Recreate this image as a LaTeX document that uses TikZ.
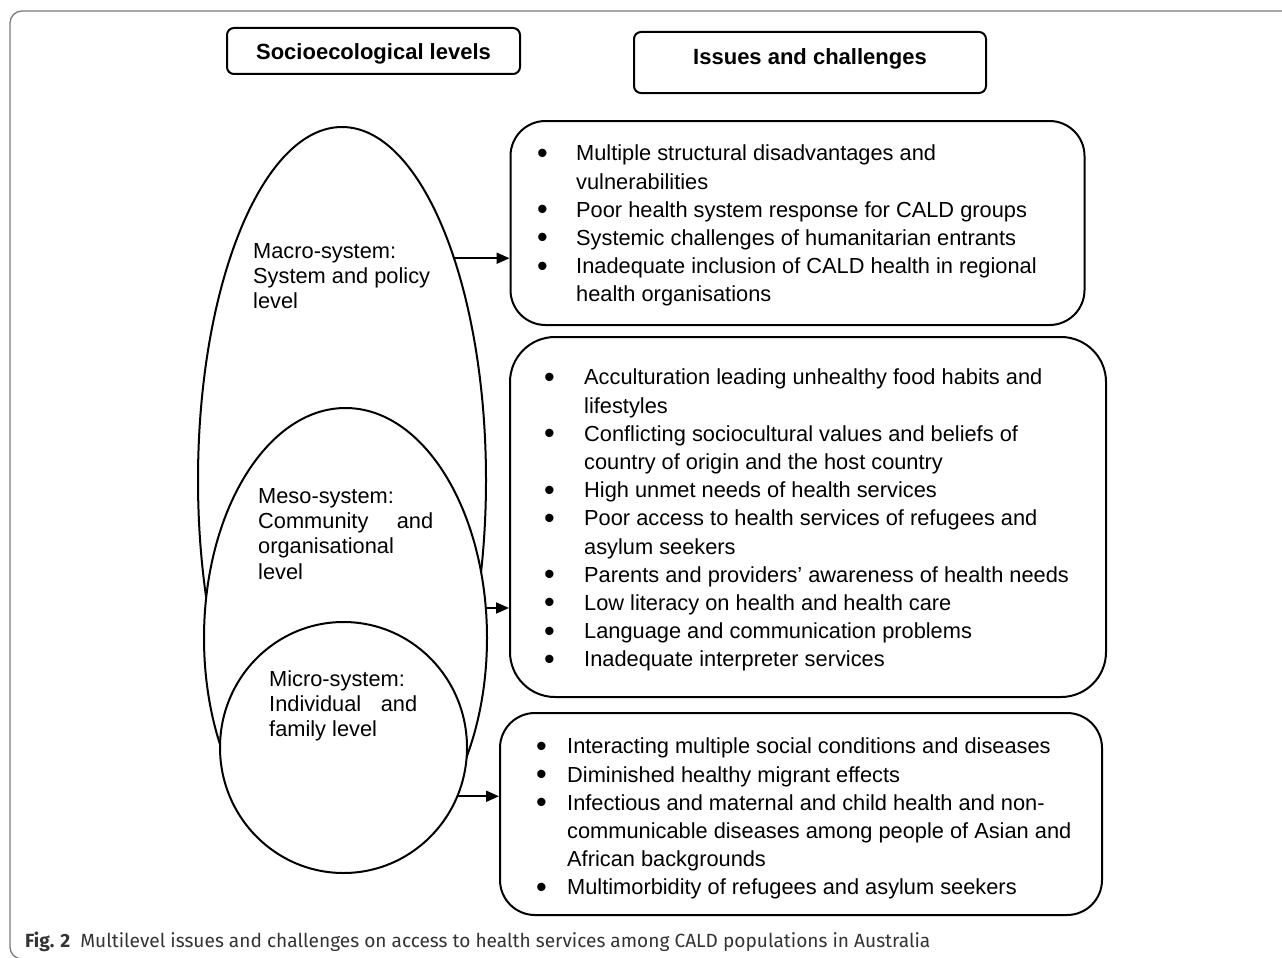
\documentclass[tikz,border=0pt]{standalone}
\usepackage{fontspec}
\setmainfont{Liberation Sans}
\newfontfamily\captionfont{Fira Sans}
\usetikzlibrary{
    positioning,
    calc,
    shapes.geometric,
    arrows.meta
}
\definecolor{FrameGray}{HTML}{7A7A7A}
\definecolor{CaptionGray}{HTML}{333333}

\newcommand{\issuebullet}{\raisebox{-2.3pt}{\scalebox{1.4}{\textbullet}}}

\tikzset{
    levelshape/.style={
        draw,
        fill=white,
        ellipse,
        line width=2pt,
        inner sep=0pt
    },
    issuebox/.style={
        draw,
        rectangle,
        line width=2pt,
        inner sep=0pt
    },
    headbox/.style={
        draw,
        rectangle,
        rounded corners=7pt,
        line width=2pt,
        inner sep=0pt,
        font=\bfseries\fontsize{22}{25}\selectfont
    },
    leveltext/.style={
        anchor=north west,
        inner sep=0pt,
        align=left,
        font=\fontsize{21.8}{25.3}\selectfont
    },
    issuetext/.style={
        anchor=north west,
        inner sep=0pt,
        font=\fontsize{21.8}{28.2}\selectfont
    },
    levelarrow/.style={
        line width=2pt,
        -{Triangle[length=13pt,width=11pt]}
    }
}

\begin{document}
\begin{tikzpicture}[x=1pt,y=-1pt]

    \useasboundingbox (0,0) rectangle (1282,958);

    % frame of the figure
    \draw[FrameGray, line width=1.3pt, rounded corners=12pt]
        (1290,11) -- (10,11) -- (10,959) -- (60,959);

    % headings
    \node[headbox, minimum width=293pt, minimum height=46pt]
        (levelhead) at (373.5,51)
        {\raisebox{-3pt}[\height][\depth]{Socioecological levels}};
    \node[headbox, minimum width=352pt, minimum height=61pt]
        (issuehead) at (810,62.5)
        {\raisebox{3.5pt}[\height][\depth]{Issues and challenges}};

    % socioecological levels
    \node[levelshape, minimum width=288pt, minimum height=706pt]
        (macro) at (342,480) {};
    \node[levelshape, minimum width=283pt, minimum height=460pt]
        (meso) at (345.5,638) {};
    \node[levelshape, minimum width=247pt, minimum height=251pt]
        (micro) at (343.5,747.5) {};

    \node[leveltext] (macrotext) at (253,243)
        {Macro-system:\\ System and policy\\ level};
    \node[leveltext] (mesotext) at (258,488)
        {Meso-system:\\ \makebox[175pt][s]{Community and}\\ organisational\\ level};
    \node[leveltext] (microtext) at (269,670)
        {Micro-system:\\ \makebox[148pt][s]{Individual and}\\ family level};

    % issues and challenges
    \node[issuebox, rounded corners=35pt, minimum width=574pt, minimum height=204pt]
        (boxA) at (797.5,223) {};
    \node[issuebox, rounded corners=45pt, minimum width=596pt, minimum height=360pt]
        (boxB) at (808,517) {};
    \node[issuebox, rounded corners=35pt, minimum width=602pt, minimum height=202pt]
        (boxC) at (801,814) {};

    \node[issuetext] (listA) at (537,141) {%
        \begin{tabular}{@{}p{39pt}@{}l@{}}
            \issuebullet & Multiple structural disadvantages and\\
                         & vulnerabilities\\
            \issuebullet & Poor health system response for CALD groups\\
            \issuebullet & Systemic challenges of humanitarian entrants\\
            \issuebullet & Inadequate inclusion of CALD health in regional\\
                         & health organisations
        \end{tabular}};

    \node[issuetext] (listB) at (544,365) {%
        \begin{tabular}{@{}p{40pt}@{}l@{}}
            \issuebullet & Acculturation leading unhealthy food habits and\\
                         & lifestyles\\
            \issuebullet & Conflicting sociocultural values and beliefs of\\
                         & country of origin and the host country\\
            \issuebullet & High unmet needs of health services\\
            \issuebullet & Poor access to health services of refugees and\\
                         & asylum seekers\\
            \issuebullet & Parents and providers’ awareness of health needs\\
            \issuebullet & Low literacy on health and health care\\
            \issuebullet & Language and communication problems\\
            \issuebullet & Inadequate interpreter services
        \end{tabular}};

    \node[issuetext] (listC) at (536,734) {%
        \begin{tabular}{@{}p{31pt}@{}l@{}}
            \issuebullet & Interacting multiple social conditions and diseases\\
            \issuebullet & Diminished healthy migrant effects\\
            \issuebullet & Infectious and maternal and child health and non-\\
                         & communicable diseases among people of Asian and\\
                         & African backgrounds\\
            \issuebullet & Multimorbidity of refugees and asylum seekers
        \end{tabular}};

    % arrows
    \draw[levelarrow] (macro.63) -- (macro.63 -| boxA.west);
    \draw[levelarrow] (meso.12) -- (meso.12 -| boxB.west);
    \draw[levelarrow] (micro.-23) -- (micro.-23 -| boxC.west);

    % caption
    \node[
        anchor=base west,
        inner sep=0pt,
        text=CaptionGray,
        font=\captionfont\fontsize{19.1}{23}\selectfont
    ] (caption) at (25,947)
        {\textbf{Fig. 2}\hspace{10pt}Multilevel issues and challenges on access to health services among CALD populations in Australia};

\end{tikzpicture}
\end{document}
